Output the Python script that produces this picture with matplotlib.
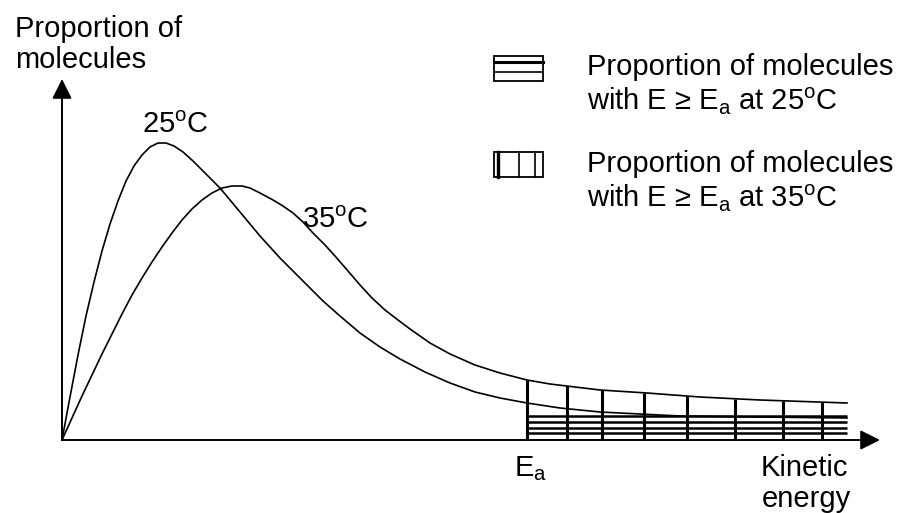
import numpy as np
import matplotlib.pyplot as plt
from matplotlib.patches import Rectangle

plt.rcParams['font.family'] = ['Liberation Sans', 'DejaVu Sans']
plt.rcParams['mathtext.fontset'] = 'custom'
plt.rcParams['mathtext.rm'] = 'Liberation Sans'
plt.rcParams['mathtext.it'] = 'Liberation Sans:italic'

# origin of the axes in picture pixels
X0, Y0 = 62, 440

# Maxwell-Boltzmann curves (energy, proportion; arbitrary units)
energy_25 = [0, 8, 16, 24, 32, 40, 48, 56, 64, 72, 80, 88, 96, 104, 112, 121, 131, 145,
             158, 168, 178, 188, 198, 208, 218, 231, 246, 261, 278, 298, 318, 338, 363, 388,
             413, 438, 465, 498, 538, 578, 618, 698, 785]
prop_25 = [0, 43, 85, 124, 158, 189, 216, 239, 259, 274, 285, 293, 297, 297, 294, 288, 279, 265,
           252, 240, 228, 216, 204, 193, 182, 169, 154, 139, 124, 107, 93, 81, 68, 57,
           48, 42, 37, 32, 28, 26, 24, 23, 22]

energy_35 = [0, 10, 20, 30, 40, 50, 60, 70, 80, 90, 100, 110, 120, 130, 140, 150, 160, 170,
             180, 188, 198, 211, 221, 231, 241, 251, 263, 273, 286, 298, 310, 323, 336, 348, 368,
             388, 413, 438, 465, 488, 538, 585, 638, 698, 785]
prop_35 = [0, 22, 44, 65, 86, 106, 126, 145, 162, 178, 193, 207, 220, 231, 240, 247, 252, 254,
           254, 252, 247, 240, 234, 227, 218, 207, 195, 184, 169, 155, 142, 130, 120, 111, 97, 86,
           75, 67, 60, 56, 50, 47, 43, 40, 37]

Ea = 465
E_end = 785
# hatch positions: vertical lines under the 35 C curve, horizontal levels under the 25 C curve
hatch_energy_35 = [465, 505, 540, 582, 625, 673, 721, 760]
hatch_levels_25 = [24, 18, 12, 7]

fig = plt.figure(figsize=(9.01, 5.13), dpi=100)
ax = fig.add_axes([0, 0, 1, 1])
ax.set_xlim(-X0, 901 - X0)
ax.set_ylim(Y0 - 513, Y0)
ax.axis('off')

# axes with arrows
arrow = dict(arrowstyle='-|>,head_length=0.6,head_width=0.3', mutation_scale=20,
             lw=1.4, color='black', shrinkA=0, shrinkB=0)
ax.annotate('', xy=(0, Y0 - 79), xytext=(0, 0), arrowprops=arrow)
ax.annotate('', xy=(880 - X0, 0), xytext=(0, 0), arrowprops=arrow)

# curves
ax.plot(energy_25, prop_25, color='black', lw=1.2, solid_joinstyle='round')
ax.plot(energy_35, prop_35, color='black', lw=1.2, solid_joinstyle='round')

# shaded regions beyond Ea
for e in hatch_energy_35:
    top = np.interp(e, energy_35, prop_35)
    ax.plot([e, e], [0, top], color='black', lw=2.2, solid_capstyle='butt')
for lev in hatch_levels_25:
    ax.plot([Ea, E_end], [lev, lev], color='black', lw=1.8, solid_capstyle='butt')

fs = 21
def txt(px, py, s, **kw):
    ax.text(px - X0, Y0 - py, s, fontsize=fs, va='baseline', **kw)

txt(15, 37, 'Proportion of')
txt(15, 68, 'molecules')
txt(142, 133, '25$^{\\mathrm{o}}$C')
txt(302, 228, '35$^{\\mathrm{o}}$C')
txt(514, 476, 'E$_{\\mathrm{a}}$')
txt(804, 476, 'Kinetic', ha='center')
txt(806, 507, 'energy', ha='center')

txt(587, 75, 'Proportion of molecules')
txt(587, 110, 'with E \u2265 E$_{\\mathrm{a}}$ at 25$^{\\mathrm{o}}$C')
txt(587, 172, 'Proportion of molecules')
txt(587, 207, 'with E \u2265 E$_{\\mathrm{a}}$ at 35$^{\\mathrm{o}}$C')

# legend symbols
bx0, bw, bh = 494 - X0, 49, 25
ax.add_patch(Rectangle((bx0, Y0 - 81), bw, bh, fill=False, lw=1.3, ec='black'))
ax.plot([bx0, bx0 + bw], [Y0 - 62, Y0 - 62], color='black', lw=2.2)
ax.plot([bx0, bx0 + bw], [Y0 - 72, Y0 - 72], color='black', lw=1.2)
ax.add_patch(Rectangle((bx0, Y0 - 177), bw, bh, fill=False, lw=1.3, ec='black'))
ax.plot([498 - X0] * 2, [Y0 - 177, Y0 - 152], color='black', lw=2.4)
ax.plot([519 - X0] * 2, [Y0 - 177, Y0 - 152], color='black', lw=1.2)
ax.plot([535 - X0] * 2, [Y0 - 177, Y0 - 152], color='black', lw=1.2)

fig.savefig('out.png', dpi=100)
